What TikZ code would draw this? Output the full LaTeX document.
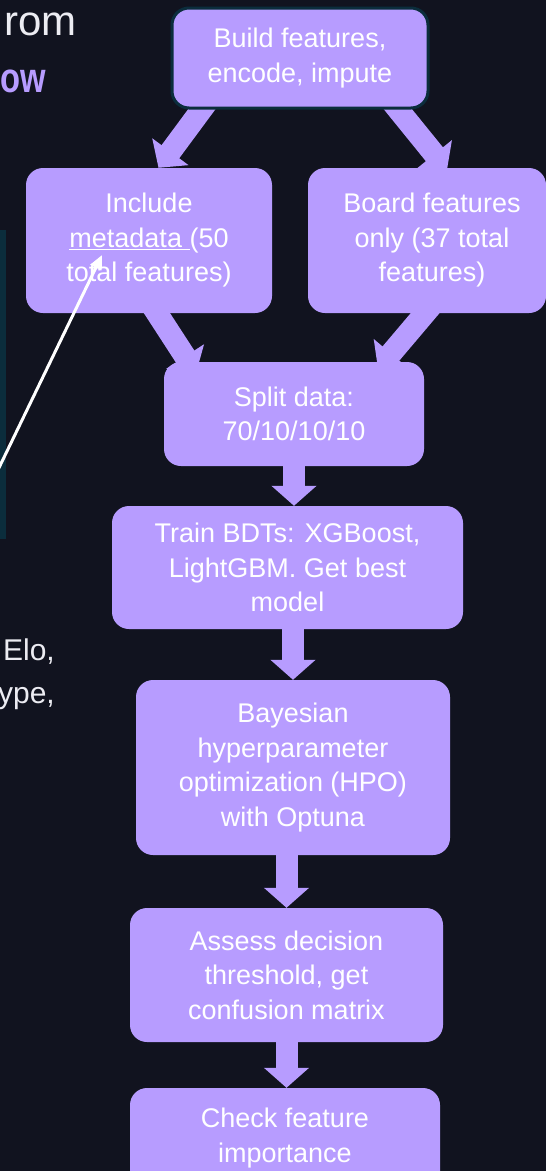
\documentclass[tikz,border=0pt]{standalone}
\usepackage{fontspec}
\setmainfont{Liberation Sans}
\usetikzlibrary{arrows.meta,calc}

\definecolor{bgdark}{HTML}{11131F}
\definecolor{lilac}{HTML}{B79CFF}
\definecolor{deepteal}{HTML}{0B2D3C}
\definecolor{softwhite}{HTML}{ECECF2}

\pgfdeclarelayer{back}
\pgfdeclarelayer{links}
\pgfsetlayers{back,links,main}

\begin{document}
\begin{tikzpicture}[
    x=1pt, y=-1pt,
    every node/.style={font=\fontsize{27}{34.5}\selectfont},
    box/.style={rectangle, rounded corners=17pt, fill=lilac, text=white,
                align=center, inner sep=0pt},
    flow/.style={lilac, line width=22pt, -{Triangle[length=20pt, width=44pt]}},
    pointer/.style={white, line width=3pt, -{Triangle[length=14pt, width=12pt]}},
    side/.style={inner sep=0pt, text=softwhite},
  ]
  \useasboundingbox (0,0) rectangle (546,1171);
  \begin{pgfonlayer}{back}
    \fill[bgdark] (0,0) rectangle (546,1171);
    \fill[deepteal] (-20,230) rectangle (6,539);
  \end{pgfonlayer}

  % left-hand text, cut at the edge
  \node[side, anchor=base east, font=\fontsize{42}{50}\selectfont] (titlea) at (77,35) {rom};
  \node[side, anchor=base east, font=\fontsize{42}{50}\selectfont\bfseries, text=lilac] (titleb) at (46,92) {\scalebox{0.78}[1]{ow}};
  \node[side, anchor=base east, font=\fontsize{30}{36}\selectfont] (notea) at (55,660) {Elo,};
  \node[side, anchor=base east, font=\fontsize{30}{36}\selectfont] (noteb) at (55,703) {ype,};

  % pipeline steps
  \node[box, draw=deepteal, line width=3pt, minimum width=256pt, minimum height=100pt]
    (build) at (300,58) {Build features,\\encode, impute};
  \node[box, minimum width=246pt, minimum height=145pt]
    (incl) at (149,240.5) {Include\\\underline{metadata\ }(50\\total features)};
  \node[box, minimum width=238pt, minimum height=145pt]
    (board) at (427,240.5) {\hspace*{10pt}Board features\\\hspace*{10pt}only (37 total\\\hspace*{10pt}features)};
  \node[box, minimum width=260pt, minimum height=104pt]
    (split) at (294,414) {Split data:\\70/10/10/10};
  \node[box, minimum width=351pt, minimum height=123pt]
    (train) at (287.5,567.5) {Train BDTs: XGBoost,\\LightGBM. Get best\\model};
  \node[box, minimum width=314pt, minimum height=175pt]
    (hpo) at (293,767.5) {Bayesian\\hyperparameter\\optimization (HPO)\\with Optuna};
  \node[box, minimum width=313pt, minimum height=134pt]
    (assess) at (286.5,975) {Assess decision\\threshold, get\\confusion matrix};
  \node[box, minimum width=310pt, minimum height=100pt]
    (check) at (285,1138) {Check feature\\importance};

  \begin{pgfonlayer}{links}
    \draw[flow] ($(build.south)+(-91,-10)$) -- ($(incl.north)+(9.5,0)$);
    \draw[flow] ($(build.south)+(90,-10)$) -- ($(board.north)+(20,2)$);
    \draw[flow] ($(incl.south)+(1.5,-10)$) -- ($(split.north)+(-98,11.5)$);
    \draw[flow] ($(board.south)+(5.7,-9)$) -- ($(split.north)+(84,7)$);
    \draw[flow] (split.south) -- (split.south |- train.north);
    \draw[flow] (hpo.north |- train.south) -- (hpo.north);
    \draw[flow] (assess.north |- hpo.south) -- (assess.north);
    \draw[flow] (assess.south) -- (assess.south |- check.north);
  \end{pgfonlayer}

  % pointer onto the metadata label
  \coordinate (metafoot) at (-5,476);
  \draw[pointer] (metafoot) -- ($(incl.center)+(-47,14.5)$);
\end{tikzpicture}
\end{document}
